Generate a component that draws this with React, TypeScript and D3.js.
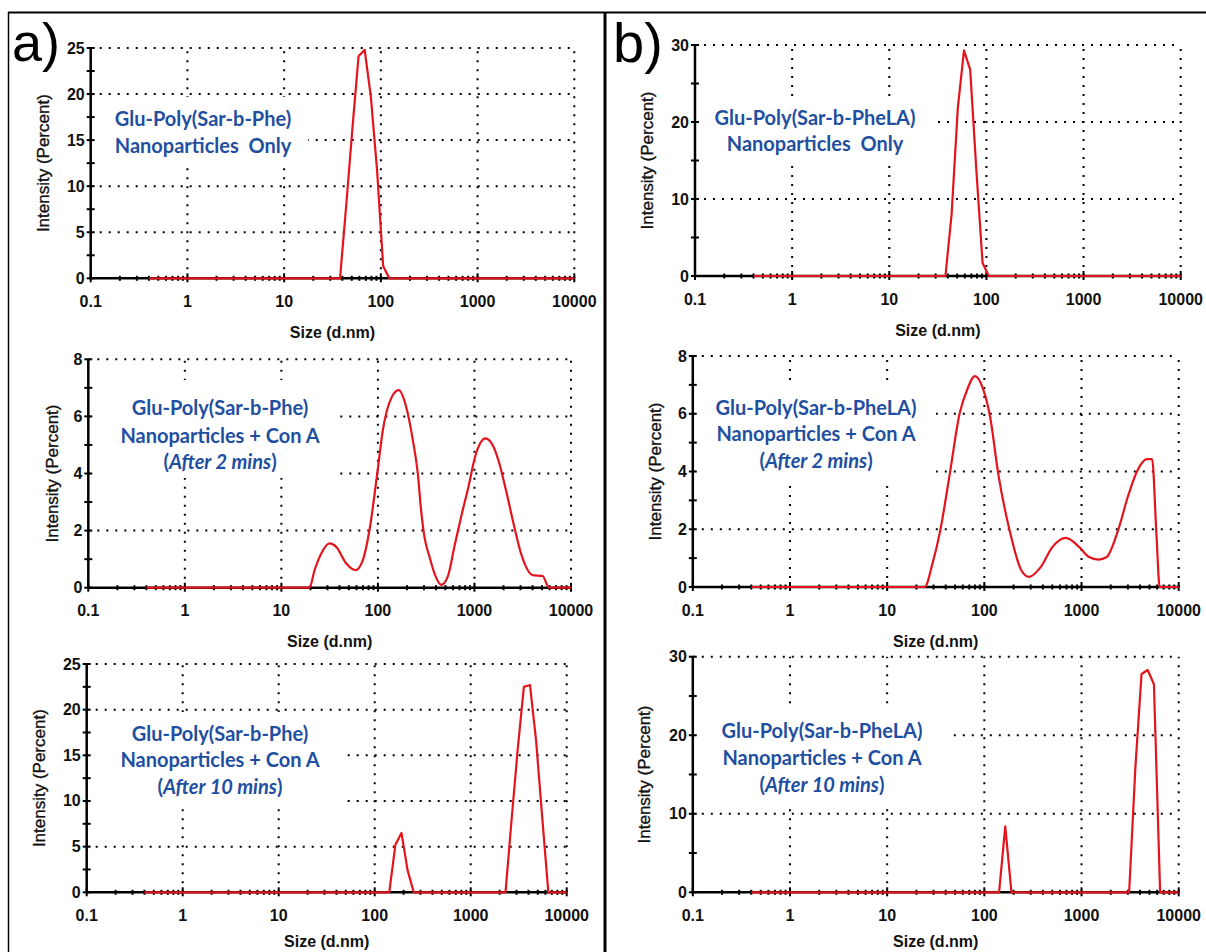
import React from 'react';
import * as d3 from 'd3';

// ---------- Data ----------
const sizeTickValues = [0.1, 1, 10, 100, 1000, 10000];
const sizeTickLabels = ['0.1', '1', '10', '100', '1000', '10000'];

const intensityTicks25 = [0, 5, 10, 15, 20, 25];
const intensityTicks8 = [0, 2, 4, 6, 8];
const intensityTicks30 = [0, 10, 20, 30];

// a) top: Glu-Poly(Sar-b-Phe) nanoparticles only
const a1Sizes = [0.4, 37.84, 43.82, 50.75, 58.77, 68.06, 78.82, 91.28, 105.7, 122.4, 10000];
const a1Intensity = [0, 0, 7.9, 16.2, 24.1, 24.8, 19.7, 11.8, 1.3, 0, 0];

// a) middle: + Con A after 2 mins
const a2Sizes = [0.4, 19.5, 22.1, 25.9, 31.6, 37, 47, 58.6, 69.8, 81.8, 98.4, 112.5, 137, 164, 196, 230, 259, 280, 303, 342, 385, 452, 529, 620, 727, 851, 1038, 1297, 1542, 1808, 2118, 2582, 3034, 3420, 4000, 5070, 5940, 10000];
const a2Intensity = [0, 0, 0.62, 1.2, 1.55, 1.43, 0.85, 0.62, 0.97, 2.02, 4.0, 5.52, 6.63, 6.92, 6.34, 5.17, 4.0, 2.72, 1.79, 1.09, 0.5, 0.1, 0.39, 1.44, 2.48, 3.42, 4.7, 5.23, 5.0, 4.36, 3.42, 2.14, 1.2, 0.73, 0.44, 0.41, 0, 0];

// a) bottom: + Con A after 10 mins
const a3Sizes = [0.4, 141.8, 164.2, 190.1, 220.2, 255.0, 2305, 2669, 3091, 3580, 4145, 4801, 5560, 6439, 10000];
const a3Intensity = [0, 0, 5.2, 6.5, 2.4, 0, 0, 8, 15.7, 22.5, 22.7, 16.6, 8.2, 0, 0];

// b) top: Glu-Poly(Sar-b-PheLA) nanoparticles only
const b1Sizes = [0.4, 37.84, 43.82, 50.75, 58.77, 68.06, 78.82, 91.28, 105.7, 10000];
const b1Intensity = [0, 0, 8, 21.8, 29.3, 26.8, 13.7, 1.7, 0, 0];

// b) middle: + Con A after 2 mins
const b2Sizes = [0.4, 24.3, 29.2, 35.2, 44.1, 55.5, 66, 80, 96.2, 115, 139, 182, 240, 288, 380, 501, 689, 949, 1194, 1500, 1803, 2376, 2980, 3750, 4710, 5320, 5920, 6370, 10000];
const b2Intensity = [0, 0, 0.8, 1.96, 3.92, 5.99, 6.8, 7.3, 6.9, 5.87, 3.92, 1.96, 0.58, 0.35, 0.69, 1.38, 1.7, 1.38, 1.04, 0.95, 1.03, 1.96, 3.1, 4.03, 4.43, 4.43, 1.73, 0, 0];

// b) bottom: + Con A after 10 mins
const b3Sizes = [0.4, 141.8, 164.2, 190.1, 3091, 3580, 4145, 4801, 5560, 6439, 10000];
const b3Intensity = [0, 0, 8.4, 0, 0, 15.8, 27.8, 28.3, 26.5, 0, 0];

const labelPhe = 'Glu-Poly(Sar-b-Phe)';
const labelPheLA = 'Glu-Poly(Sar-b-PheLA)';
const labelOnly = 'Nanoparticles  Only';
const labelConA = 'Nanoparticles + Con A';
const label2min = '(*After 2 mins*)';
const label10min = '(*After 10 mins*)';

const xTitle = 'Size (d.nm)';
const yTitle = 'Intensity (Percent)';

// ---------- Layout ----------
const AXIS_FONT = "'Liberation Sans', Arial, Helvetica, sans-serif";
const NOTE_FONT = "Lato, 'Open Sans', sans-serif";
const RED = '#E3141C';
const BLUE = '#1F4FA0';

type PanelCfg = {
  x0: number; x1: number; y0: number; y1: number;
  yMax: number; yTicks: number[];
  sizes: number[]; values: number[];
  smooth: boolean;
  yTitleDx: number;
  xTitleDy: number;
  lines: string[]; cx: number; lineYs: number[];
  box: [number, number, number, number];
};

const panels: PanelCfg[] = [
  { x0: 90.7, x1: 574.3, y0: 278.3, y1: 48, yMax: 25, yTicks: intensityTicks25, sizes: a1Sizes, values: a1Intensity, smooth: false, yTitleDx: -47, xTitleDy: 54,
    lines: [labelPhe, labelOnly], cx: 203, lineYs: [118, 145], box: [93, 97, 308, 167] },
  { x0: 88.3, x1: 571, y0: 587.7, y1: 359.3, yMax: 8, yTicks: intensityTicks8, sizes: a2Sizes, values: a2Intensity, smooth: true, yTitleDx: -36, xTitleDy: 54,
    lines: [labelPhe, labelConA, label2min], cx: 220, lineYs: [407, 435, 461], box: [91, 380, 340, 478] },
  { x0: 86.7, x1: 566.7, y0: 892.3, y1: 664, yMax: 25, yTicks: intensityTicks25, sizes: a3Sizes, values: a3Intensity, smooth: false, yTitleDx: -47, xTitleDy: 49,
    lines: [labelPhe, labelConA, label10min], cx: 220, lineYs: [733, 759, 786], box: [90, 712, 342, 808] },
  { x0: 695, x1: 1180.7, y0: 276, y1: 45, yMax: 30, yTicks: intensityTicks30, sizes: b1Sizes, values: b1Intensity, smooth: false, yTitleDx: -48, xTitleDy: 54,
    lines: [labelPheLA, labelOnly], cx: 815, lineYs: [117, 143], box: [698, 97, 932, 165] },
  { x0: 692.8, x1: 1178.7, y0: 587, y1: 356, yMax: 8, yTicks: intensityTicks8, sizes: b2Sizes, values: b2Intensity, smooth: true, yTitleDx: -37, xTitleDy: 54,
    lines: [labelPheLA, labelConA, label2min], cx: 816, lineYs: [407, 433, 460], box: [696, 385, 936, 485] },
  { x0: 692.8, x1: 1178.7, y0: 892.3, y1: 656.7, yMax: 30, yTicks: intensityTicks30, sizes: b3Sizes, values: b3Intensity, smooth: false, yTitleDx: -48, xTitleDy: 49,
    lines: [labelPheLA, labelConA, label10min], cx: 822, lineYs: [730, 757, 784], box: [696, 707, 951, 806] },
];

function NoteLine({ text, x, y }: { text: string; x: number; y: number }) {
  const parts = text.split('*');
  return (
    <text x={x} y={y} textAnchor="middle" dominantBaseline="central" fontFamily={NOTE_FONT} fontWeight={700} fontSize={20} fill={BLUE} style={{ whiteSpace: 'pre' }}>
      {parts.map((p, i) => (
        <tspan key={i} fontStyle={i % 2 === 1 ? 'italic' : 'normal'}>{p}</tspan>
      ))}
    </text>
  );
}

function Panel({ cfg }: { cfg: PanelCfg }) {
  const x = d3.scaleLog().domain([0.1, 10000]).range([cfg.x0, cfg.x1]);
  const y = d3.scaleLinear().domain([0, cfg.yMax]).range([cfg.y0, cfg.y1]);
  const allTicks = x.ticks();
  const isDecade = (t: number) => Math.abs(Math.log10(t) - Math.round(Math.log10(t))) < 1e-6;
  const minorX = allTicks.filter((t) => !isDecade(t));
  const minorY: number[] = [];
  for (let i = 0; i < cfg.yTicks.length - 1; i++) minorY.push((cfg.yTicks[i] + cfg.yTicks[i + 1]) / 2);

  const pts: [number, number][] = cfg.sizes.map((s, i) => [s, cfg.values[i]]);
  const line = d3
    .line<[number, number]>()
    .x((d) => x(d[0]))
    .y((d) => y(d[1]))
    .curve(cfg.smooth ? d3.curveMonotoneX : d3.curveLinear);

  const dot = { stroke: '#000', strokeWidth: 2, strokeDasharray: '2 7' };
  const [bx0, by0, bx1, by1] = cfg.box;
  const midY = (cfg.y0 + cfg.y1) / 2;
  const midX = (cfg.x0 + cfg.x1) / 2;

  return (
    <g>
      {/* grid */}
      {cfg.yTicks.filter((t) => t > 0).map((t) => (
        <line key={'gy' + t} x1={cfg.x0} x2={cfg.x1} y1={y(t)} y2={y(t)} {...dot} />
      ))}
      {sizeTickValues.slice(1).map((t) => (
        <line key={'gx' + t} x1={x(t)} x2={x(t)} y1={cfg.y0} y2={cfg.y1} {...dot} />
      ))}
      {/* note box */}
      <rect x={bx0} y={by0} width={bx1 - bx0} height={by1 - by0} fill="#fff" />
      {cfg.lines.map((l, i) => (
        <NoteLine key={i} text={l} x={cfg.cx} y={cfg.lineYs[i]} />
      ))}
      {/* axes */}
      <line x1={cfg.x0} x2={cfg.x1} y1={cfg.y0} y2={cfg.y0} stroke="#000" strokeWidth={2.5} />
      <line x1={cfg.x0} x2={cfg.x0} y1={cfg.y0 + 1} y2={cfg.y1} stroke="#000" strokeWidth={2.5} />
      {minorX.map((t, i) => (
        <line key={'mx' + i} x1={x(t)} x2={x(t)} y1={cfg.y0 - 2.5} y2={cfg.y0 + 2.5} stroke="#000" strokeWidth={2} />
      ))}
      {sizeTickValues.map((t) => (
        <line key={'Mx' + t} x1={x(t)} x2={x(t)} y1={cfg.y0 - 5} y2={cfg.y0 + 4} stroke="#000" strokeWidth={2} />
      ))}
      {cfg.yTicks.map((t) => (
        <line key={'My' + t} x1={cfg.x0 - 4} x2={cfg.x0 + 4} y1={y(t)} y2={y(t)} stroke="#000" strokeWidth={2} />
      ))}
      {minorY.map((t) => (
        <line key={'my' + t} x1={cfg.x0 - 4} x2={cfg.x0 + 4} y1={y(t)} y2={y(t)} stroke="#000" strokeWidth={2} />
      ))}
      {/* tick labels */}
      {sizeTickValues.map((t, i) => (
        <text key={'lx' + t} x={x(t)} y={cfg.y0 + 23} textAnchor="middle" dominantBaseline="central" fontFamily={AXIS_FONT} fontWeight={700} fontSize={16} fill="#111">
          {sizeTickLabels[i]}
        </text>
      ))}
      {cfg.yTicks.map((t) => (
        <text key={'ly' + t} x={cfg.x0 - 6} y={y(t)} textAnchor="end" dominantBaseline="central" fontFamily={AXIS_FONT} fontWeight={700} fontSize={16} fill="#111">
          {String(t)}
        </text>
      ))}
      {/* titles */}
      <text x={midX} y={cfg.y0 + cfg.xTitleDy} textAnchor="middle" dominantBaseline="central" fontFamily={AXIS_FONT} fontWeight={700} fontSize={16} fill="#111">
        {xTitle}
      </text>
      <text
        transform={`translate(${cfg.x0 + cfg.yTitleDx},${midY}) rotate(-90)`}
        textAnchor="middle"
        dominantBaseline="central"
        fontFamily={AXIS_FONT}
        fontSize={17}
        fill="#111"
        stroke="#111"
        strokeWidth={0.35}
      >
        {yTitle}
      </text>
      {/* data */}
      <path d={line(pts) || ''} fill="none" stroke={RED} strokeWidth={2.2} strokeLinejoin="round" />
    </g>
  );
}

export default function App() {
  return (
    <svg
      width={1206}
      height={952}
      viewBox="0 0 1206 952"
      style={{ position: 'absolute', left: 0, top: 0, background: '#fff', display: 'block' }}
    >
      <rect x={0} y={0} width={1206} height={952} fill="#fff" />
      {panels.map((p, i) => (
        <Panel key={i} cfg={p} />
      ))}
      {/* frame */}
      <line x1={8} x2={1206} y1={12.5} y2={12.5} stroke="#000" strokeWidth={2} />
      <line x1={8.5} x2={8.5} y1={12} y2={952} stroke="#000" strokeWidth={1.5} />
      <line x1={605} x2={605} y1={12} y2={952} stroke="#000" strokeWidth={3} />
      {/* panel letters */}
      <text x={12} y={61} fontFamily={AXIS_FONT} fontSize={54} fill="#000">a)</text>
      <text x={613} y={62} fontFamily={AXIS_FONT} fontSize={56} fill="#000">b)</text>
    </svg>
  );
}
